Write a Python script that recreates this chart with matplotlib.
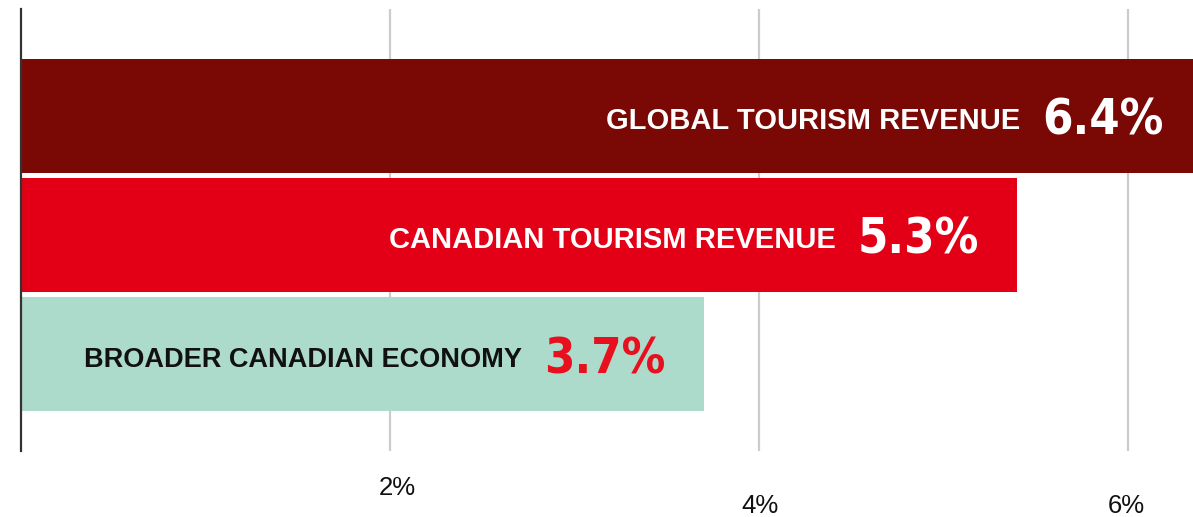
import matplotlib
matplotlib.use('Agg')
import matplotlib.pyplot as plt
from matplotlib import font_manager


# data
categories = ['GLOBAL TOURISM REVENUE', 'CANADIAN TOURISM REVENUE', 'BROADER CANADIAN ECONOMY']
bar_values = [6.4, 5.4, 3.7]
value_labels = ['6.4%', '5.3%', '3.7%']
x_ticks = [2, 4, 6]
x_tick_labels = ['2%', '4%', '6%']

bar_colors = ['#7a0906', '#e30016', '#acdacb']
label_colors = ['white', 'white', '#111111']
value_colors = ['white', 'white', '#e8101e']
label_sizes = [21, 21, 19.5]


def pick_font(names):
    l_installed = {f.name for f in font_manager.fontManager.ttflist}
    for l_name in names:
        if l_name in l_installed:
            return l_name
    return 'DejaVu Sans'


def pick_narrow():
    # look for any condensed / narrow face, bold-ish first
    l_found = []
    for f in font_manager.fontManager.ttflist:
        l_tag = (f.name + ' ' + str(f.stretch) + ' ' + f.fname).lower()
        if 'condensed' in l_tag or 'narrow' in l_tag:
            if 'italic' in f.fname.lower() or 'oblique' in f.fname.lower() or f.style != 'normal':
                continue
            l_weight = f.weight if isinstance(f.weight, int) else 400
            l_found.append((abs(l_weight - 650), f.fname))
    if l_found:
        l_found.sort()
        return font_manager.FontProperties(fname=l_found[0][1]), True
    return font_manager.FontProperties(family=pick_font(['Liberation Sans']), weight='bold'), False


plain_font = pick_font(['Liberation Sans', 'Arial', 'DejaVu Sans'])
narrow_prop, is_narrow = pick_narrow()
narrow_prop.set_size(35 if is_narrow else 31)

fig = plt.figure(figsize=(11.93, 5.17), dpi=100)
ax = fig.add_axes([21 / 1193, 66 / 517, 1 - 21 / 1193, 442 / 517])

y_pos = list(range(len(categories)))
ax.barh(y_pos, bar_values, height=0.958, color=bar_colors, zorder=2)

ax.set_xlim(0, 1172 / 184.5)
ax.set_ylim(2.815, -0.899)

for l_tick in x_ticks:
    ax.axvline(l_tick, color='#cccccc', linewidth=1.6, zorder=1)

for l_name in ['top', 'right', 'bottom']:
    ax.spines[l_name].set_visible(False)
ax.spines['left'].set_color('#333333')
ax.spines['left'].set_linewidth(1.6)
ax.spines['left'].set_zorder(3)
ax.set_xticks([])
ax.set_yticks([])

# value and category labels inside the bars
for l_idx in y_pos:
    l_pct = ax.annotate(value_labels[l_idx], xy=(bar_values[l_idx], l_idx), xycoords='data',
                        xytext=(-38, -19), textcoords='offset pixels',
                        ha='right', va='baseline', color=value_colors[l_idx],
                        fontproperties=narrow_prop, zorder=4,
                        annotation_clip=False)
    ax.annotate(categories[l_idx], xy=(0, l_idx), xycoords=(l_pct, 'data'),
                xytext=(-22, -13), textcoords='offset pixels',
                ha='right', va='baseline', color=label_colors[l_idx],
                fontsize=label_sizes[l_idx], fontweight='bold', family=plain_font, zorder=4,
                annotation_clip=False)

# staggered tick labels under the axis
tick_offsets = [(7, -37), (1, -55), (-2, -55)]
for l_idx in range(len(x_ticks)):
    ax.annotate(x_tick_labels[l_idx], xy=(x_ticks[l_idx], 0), xycoords=('data', 'axes fraction'),
                xytext=tick_offsets[l_idx], textcoords='offset pixels',
                ha='center', va='center', fontsize=18.5, family=plain_font, color='#111111',
                annotation_clip=False)

fig.savefig('out.png', dpi=100)
